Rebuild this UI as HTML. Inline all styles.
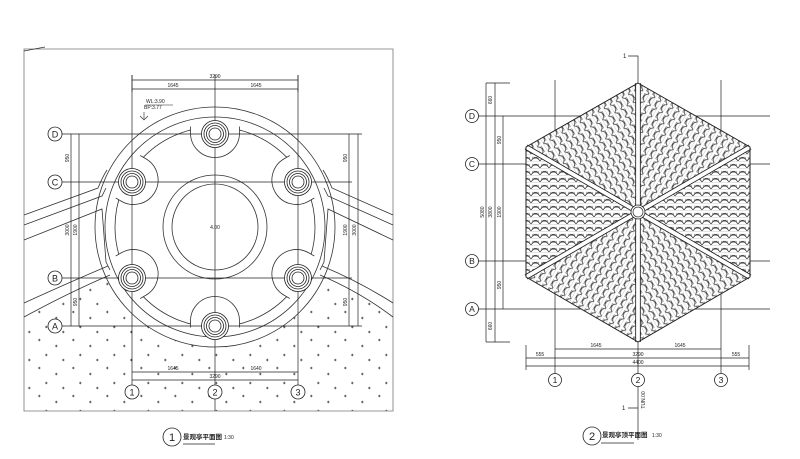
<!DOCTYPE html>
<html><head><meta charset="utf-8"><style>
html,body{margin:0;padding:0;background:#fff}
svg{display:block}
text{font-family:"Liberation Sans","Noto Sans CJK SC",sans-serif;fill:#222}
</style></head><body>
<svg width="800" height="459" viewBox="0 0 800 459" xmlns="http://www.w3.org/2000/svg">
<defs>
<pattern id="dots" width="34" height="28" patternUnits="userSpaceOnUse">
<g stroke="#333" stroke-width="0.7">
<path d="M4,4h2.5M5.25,2.8v2.4"/><path d="M21,10h2.5M22.25,8.8v2.4"/><path d="M11,19h2.5M12.25,17.8v2.4"/><path d="M28,24h2.5M29.25,22.8v2.4"/>
</g></pattern>
<pattern id="tile" width="9" height="7" patternUnits="userSpaceOnUse">
<rect width="9" height="7" fill="#fff"/>
<path d="M0,7 Q4.5,0.5 9,7" fill="none" stroke="#333" stroke-width="0.7"/>
<path d="M1,3.2h7M1,4.4h7" stroke="#555" stroke-width="0.5"/>
<path d="M0,0h9" stroke="#777" stroke-width="0.4"/>
</pattern>
<pattern id="tA" href="#tile" patternTransform="rotate(60)"/>
<pattern id="tB" href="#tile" patternTransform="rotate(-60)"/>
<clipPath id="hatchclip"><path d="M24,317 Q70,292 110,275 L110,300 L320,300 L320,275 Q360,292 393,317 L393,411 L24,411 Z"/></clipPath>
</defs>

<!-- ===== LEFT DRAWING ===== -->
<g fill="none" stroke="#333" stroke-width="0.8">
<path d="M24,49 H393 V411 H24 Z" stroke="#777"/>
<path d="M24,51 L45,47"/>
</g>
<rect x="24" y="260" width="369" height="151" fill="url(#dots)" clip-path="url(#hatchclip)"/>
<circle cx="215" cy="227" r="120" fill="#fff" stroke="#333" stroke-width="0.8"/>
<circle cx="215" cy="227" r="110" fill="none" stroke="#333" stroke-width="0.8"/>
<circle cx="215" cy="227" r="100" fill="none" stroke="#333" stroke-width="0.8"/>
<g id="notch">
<path d="M190.5,124 L190.5,133 A24.5,24.5 0 0 0 239.5,133 L239.5,124 Z" fill="#fff" stroke="none"/>
<path d="M190.5,126.5 L190.5,133 A24.5,24.5 0 0 0 239.5,133 L239.5,126.5" fill="none" stroke="#333" stroke-width="0.8"/>
</g>
<use href="#notch" transform="rotate(60 215 227)"/>
<use href="#notch" transform="rotate(120 215 227)"/>
<use href="#notch" transform="rotate(180 215 227)"/>
<use href="#notch" transform="rotate(240 215 227)"/>
<use href="#notch" transform="rotate(300 215 227)"/>
<g fill="none" stroke="#333" stroke-width="0.8">
<path d="M24,215 L98,188 Q103,176 107,170"/>
<path d="M24,225 L102,196 L106,188"/>
<path d="M24,240 L102,209 L106,262 L110,270"/>
<path d="M24,303 Q70,282 108,266"/>
<path d="M24,317 Q70,292 110,275"/>
<path d="M393,215 L332,188 Q327,176 323,170"/>
<path d="M393,225 L328,196 L324,188"/>
<path d="M393,240 L328,209 L324,262 L320,270"/>
<path d="M393,303 Q360,282 322,266"/>
<path d="M393,317 Q360,292 320,275"/>
<circle cx="215" cy="227" r="52"/>
<circle cx="215" cy="227" r="43"/>
</g>
<g stroke="#222" stroke-width="0.7" fill="none">
<path d="M62,134H362M62,182H352M62,278H352M62,326H362"/>
<path d="M132,75V385M215,75V411M298,75V385"/>
<path d="M71,134V326M79,134V326M349,134V326M358,134V326"/>
<path d="M132,80H298M132,89H298M132,372H298M132,380H298"/>
<path d="M132,75V92M298,75V92"/>
</g>
<g fill="#fff" stroke="#222" stroke-width="0.8">
<g id="col"><circle cx="215" cy="134" r="13.5"/><circle cx="215" cy="134" r="11"/><circle cx="215" cy="134" r="8.5"/><circle cx="215" cy="134" r="6"/></g>
<use href="#col" transform="translate(-83,48)"/><use href="#col" transform="translate(83,48)"/>
<use href="#col" transform="translate(-83,144)"/><use href="#col" transform="translate(83,144)"/>
<use href="#col" transform="translate(0,192)"/>
</g>
<g fill="#fff" stroke="#222" stroke-width="0.8">
<circle cx="55" cy="134" r="7"/><circle cx="55" cy="182" r="7"/><circle cx="55" cy="278" r="7"/><circle cx="55" cy="326" r="7"/>
<circle cx="132" cy="392" r="7"/><circle cx="215" cy="392" r="7"/><circle cx="298" cy="392" r="7"/>
</g>
<g font-size="9" text-anchor="middle">
<text x="55" y="137.5">D</text><text x="55" y="185.5">C</text><text x="55" y="281.5">B</text><text x="55" y="329.5">A</text>
<text x="132" y="395.5">1</text><text x="215" y="395.5">2</text><text x="298" y="395.5">3</text>
</g>
<g font-size="5" text-anchor="middle">
<text x="215" y="78">3290</text><text x="173" y="87">1645</text><text x="256" y="87">1645</text>
<text x="173" y="370">1645</text><text x="256" y="370">1640</text><text x="215" y="378">3290</text>
<text x="215" y="229">4.00</text>
<text transform="translate(69,158) rotate(-90)">950</text><text transform="translate(69,230) rotate(-90)">3000</text><text transform="translate(77,230) rotate(-90)">1900</text><text transform="translate(77,302) rotate(-90)">950</text>
<text transform="translate(347,158) rotate(-90)">950</text><text transform="translate(347,230) rotate(-90)">1900</text><text transform="translate(356,230) rotate(-90)">3000</text><text transform="translate(347,302) rotate(-90)">950</text>
</g>
<g font-size="5"><text x="146" y="103">WL:3.90</text><text x="144" y="109">BP:3.77</text></g>
<path d="M145,105H173M144,112V119M140,116L144,120L148,116" stroke="#222" stroke-width="0.6" fill="none"/>
<circle cx="172" cy="437" r="9" fill="none" stroke="#222" stroke-width="0.8"/>
<text x="172" y="441" font-size="11" text-anchor="middle">1</text>
<text x="183" y="439" font-size="6.5" font-weight="bold">景观亭平面图</text>
<text x="224" y="439" font-size="5">1:30</text>
<path d="M183,444H215" stroke="#222" stroke-width="0.8"/>

<!-- ===== RIGHT DRAWING ===== -->
<g stroke="#222" stroke-width="0.7" fill="none">
<path d="M478,116H770M478,164H770M478,261H770M478,309H770"/>
<path d="M555,80V374M721,80V374M638,70V440"/>
<path d="M486,83V342M495,83V342M503,116V309M486,83H510M486,342H510"/>
<path d="M555,349H721M526,358H749M526,366H749M526,345V370M749,345V370"/>
<path d="M628,56H638V70M628,408H638"/>
</g>
<polygon points="638,212 638,83 526,147" fill="url(#tA)"/>
<polygon points="638,212 638,83 750,147" fill="url(#tB)"/>
<polygon points="638,212 526,147 526,277" fill="url(#tile)"/>
<polygon points="638,212 750,147 750,277" fill="url(#tile)"/>
<polygon points="638,212 526,277 638,342" fill="url(#tB)"/>
<polygon points="638,212 750,277 638,342" fill="url(#tA)"/>
<g stroke="#222" stroke-width="5.5" fill="none"><path d="M638,83V342M526,147L750,277M750,147L526,277"/></g>
<g stroke="#fff" stroke-width="3.8" fill="none"><path d="M638,83V342M526,147L750,277M750,147L526,277"/></g>
<polygon points="638,83 750,147 750,277 638,342 526,277 526,147" fill="none" stroke="#222" stroke-width="1"/>
<circle cx="638" cy="212" r="7" fill="#fff" stroke="#222" stroke-width="0.8"/>
<circle cx="638" cy="212" r="5" fill="none" stroke="#222" stroke-width="0.7"/>
<g fill="#fff" stroke="#222" stroke-width="0.8">
<circle cx="472" cy="116" r="6.5"/><circle cx="472" cy="164" r="6.5"/><circle cx="472" cy="261" r="6.5"/><circle cx="472" cy="309" r="6.5"/>
<circle cx="555" cy="380" r="6.5"/><circle cx="638" cy="380" r="6.5"/><circle cx="721" cy="380" r="6.5"/>
</g>
<g font-size="8.5" text-anchor="middle">
<text x="472" y="119">D</text><text x="472" y="167">C</text><text x="472" y="264">B</text><text x="472" y="312">A</text>
<text x="555" y="383">1</text><text x="638" y="383">2</text><text x="721" y="383">3</text>
</g>
<g font-size="5" text-anchor="middle">
<text x="596" y="347">1645</text><text x="680" y="347">1645</text>
<text x="540" y="356">555</text><text x="638" y="356">3290</text><text x="736" y="356">555</text><text x="638" y="364">4400</text>
<text transform="translate(492,100) rotate(-90)">660</text><text transform="translate(501,140) rotate(-90)">950</text>
<text transform="translate(484,212) rotate(-90)">5080</text><text transform="translate(492,212) rotate(-90)">3800</text><text transform="translate(501,212) rotate(-90)">1900</text>
<text transform="translate(501,285) rotate(-90)">950</text><text transform="translate(492,326) rotate(-90)">660</text>
<text transform="translate(645,400) rotate(-90)">TUN.00</text>
</g>
<text x="623" y="58" font-size="6">1</text><text x="622" y="410" font-size="6">1</text>
<circle cx="592" cy="436" r="9" fill="none" stroke="#222" stroke-width="0.8"/>
<text x="592" y="440" font-size="11" text-anchor="middle">2</text>
<text x="602" y="437" font-size="6.5" font-weight="bold">景观亭顶平面图</text>
<text x="652" y="437" font-size="5">1:30</text>
<path d="M601,443H634" stroke="#222" stroke-width="0.8"/>
</svg>
</body></html>
